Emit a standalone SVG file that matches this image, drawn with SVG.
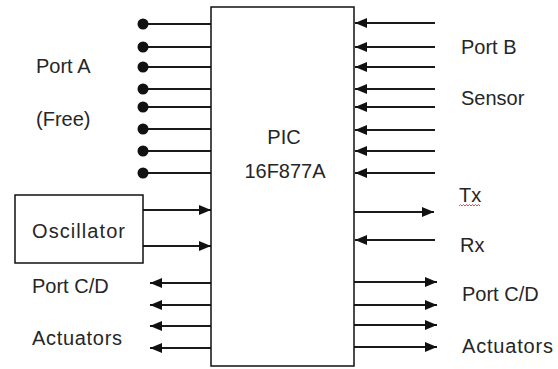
<svg xmlns="http://www.w3.org/2000/svg" width="558" height="369" viewBox="0 0 558 369">
<style>
.t{font-family:"Liberation Sans",Arial,sans-serif;font-size:20px;fill:#262626}
.box{fill:#fff;stroke:#111;stroke-width:1.5}
.w{stroke:#1a1a1a;stroke-width:2;fill:none}
.a{stroke:#1a1a1a;stroke-width:2;fill:none;marker-end:url(#ah)}
</style>
<defs>
<marker id="ah" viewBox="0 0 12 10" refX="12" refY="5" markerUnits="userSpaceOnUse" markerWidth="12" markerHeight="10" orient="auto">
<path d="M0,0 L12,5 L0,10 z" fill="#111"/>
</marker>
</defs>
<rect width="558" height="369" fill="#fff"/>
<g id="connectors">
<g id="portA-lines">
<line class="w" x1="143" y1="24" x2="211" y2="24"/>
<line class="w" x1="143" y1="47" x2="211" y2="47"/>
<line class="w" x1="143" y1="67" x2="211" y2="67"/>
<line class="w" x1="143" y1="89" x2="211" y2="89"/>
<line class="w" x1="143" y1="107" x2="211" y2="107"/>
<line class="w" x1="143" y1="129" x2="211" y2="129"/>
<line class="w" x1="143" y1="151" x2="211" y2="151"/>
<line class="w" x1="143" y1="173" x2="211" y2="173"/>
<g fill="#111">
<circle cx="143" cy="24" r="5.5"/>
<circle cx="143" cy="47" r="5.5"/>
<circle cx="143" cy="67" r="5.5"/>
<circle cx="143" cy="89" r="5.5"/>
<circle cx="143" cy="107" r="5.5"/>
<circle cx="143" cy="129" r="5.5"/>
<circle cx="143" cy="151" r="5.5"/>
<circle cx="143" cy="173" r="5.5"/>
</g>
</g>
<g id="portB-arrows">
<line class="a" x1="435" y1="23" x2="355" y2="23"/>
<line class="a" x1="435" y1="47" x2="355" y2="47"/>
<line class="a" x1="435" y1="67" x2="355" y2="67"/>
<line class="a" x1="435" y1="89" x2="355" y2="89"/>
<line class="a" x1="435" y1="107" x2="355" y2="107"/>
<line class="a" x1="435" y1="130" x2="355" y2="130"/>
<line class="a" x1="435" y1="151" x2="355" y2="151"/>
<line class="a" x1="435" y1="173" x2="355" y2="173"/>
</g>
<g id="uart-arrows">
<line class="a" x1="354" y1="212" x2="434" y2="212"/>
<line class="a" x1="435" y1="240" x2="355" y2="240"/>
</g>
<g id="osc-arrows">
<line class="a" x1="143" y1="210" x2="211" y2="210"/>
<line class="a" x1="143" y1="246" x2="211" y2="246"/>
</g>
<g id="portCD-left-arrows">
<line class="a" x1="211" y1="283" x2="150" y2="283"/>
<line class="a" x1="211" y1="305" x2="150" y2="305"/>
<line class="a" x1="211" y1="326" x2="150" y2="326"/>
<line class="a" x1="211" y1="348" x2="150" y2="348"/>
</g>
<g id="portCD-right-arrows">
<line class="a" x1="354" y1="282" x2="437" y2="282"/>
<line class="a" x1="354" y1="305" x2="437" y2="305"/>
<line class="a" x1="354" y1="325" x2="437" y2="325"/>
<line class="a" x1="354" y1="347" x2="437" y2="347"/>
</g>
</g>
<g id="pic">
<rect class="box" x="211" y="7" width="143" height="359"/>
<text class="t" x="284" y="144" text-anchor="middle">PIC</text>
<text class="t" x="285" y="178" text-anchor="middle">16F877A</text>
</g>
<g id="oscillator">
<rect class="box" x="15" y="195" width="128" height="68"/>
<text class="t" x="32" y="238" textLength="93">Oscillator</text>
</g>
<g id="label-portA">
<text class="t" x="36" y="73">Port A</text>
<text class="t" x="36" y="126">(Free)</text>
</g>
<g id="label-portB">
<text class="t" x="461" y="54">Port B</text>
<text class="t" x="461" y="105">Sensor</text>
</g>
<g id="label-tx">
<text class="t" x="459" y="202">Tx</text>
<path d="M459,206 l1.5,-1.5 l1.5,1.5 l1.5,-1.5 l1.5,1.5 l1.5,-1.5 l1.5,1.5 l1.5,-1.5 l1.5,1.5 l1.5,-1.5 l1.5,1.5 l1.5,-1.5 l1.5,1.5 l1.5,-1.5 l1.5,1.5" fill="none" stroke="#e04040" stroke-width="0.9"/>
</g>
<g id="label-rx">
<text class="t" x="460" y="252">Rx</text>
</g>
<g id="label-portCD-left">
<text class="t" x="32" y="293">Port C/D</text>
<text class="t" x="32" y="345" textLength="90">Actuators</text>
</g>
<g id="label-portCD-right">
<text class="t" x="462" y="301">Port C/D</text>
<text class="t" x="462" y="353" textLength="91">Actuators</text>
</g>
</svg>
